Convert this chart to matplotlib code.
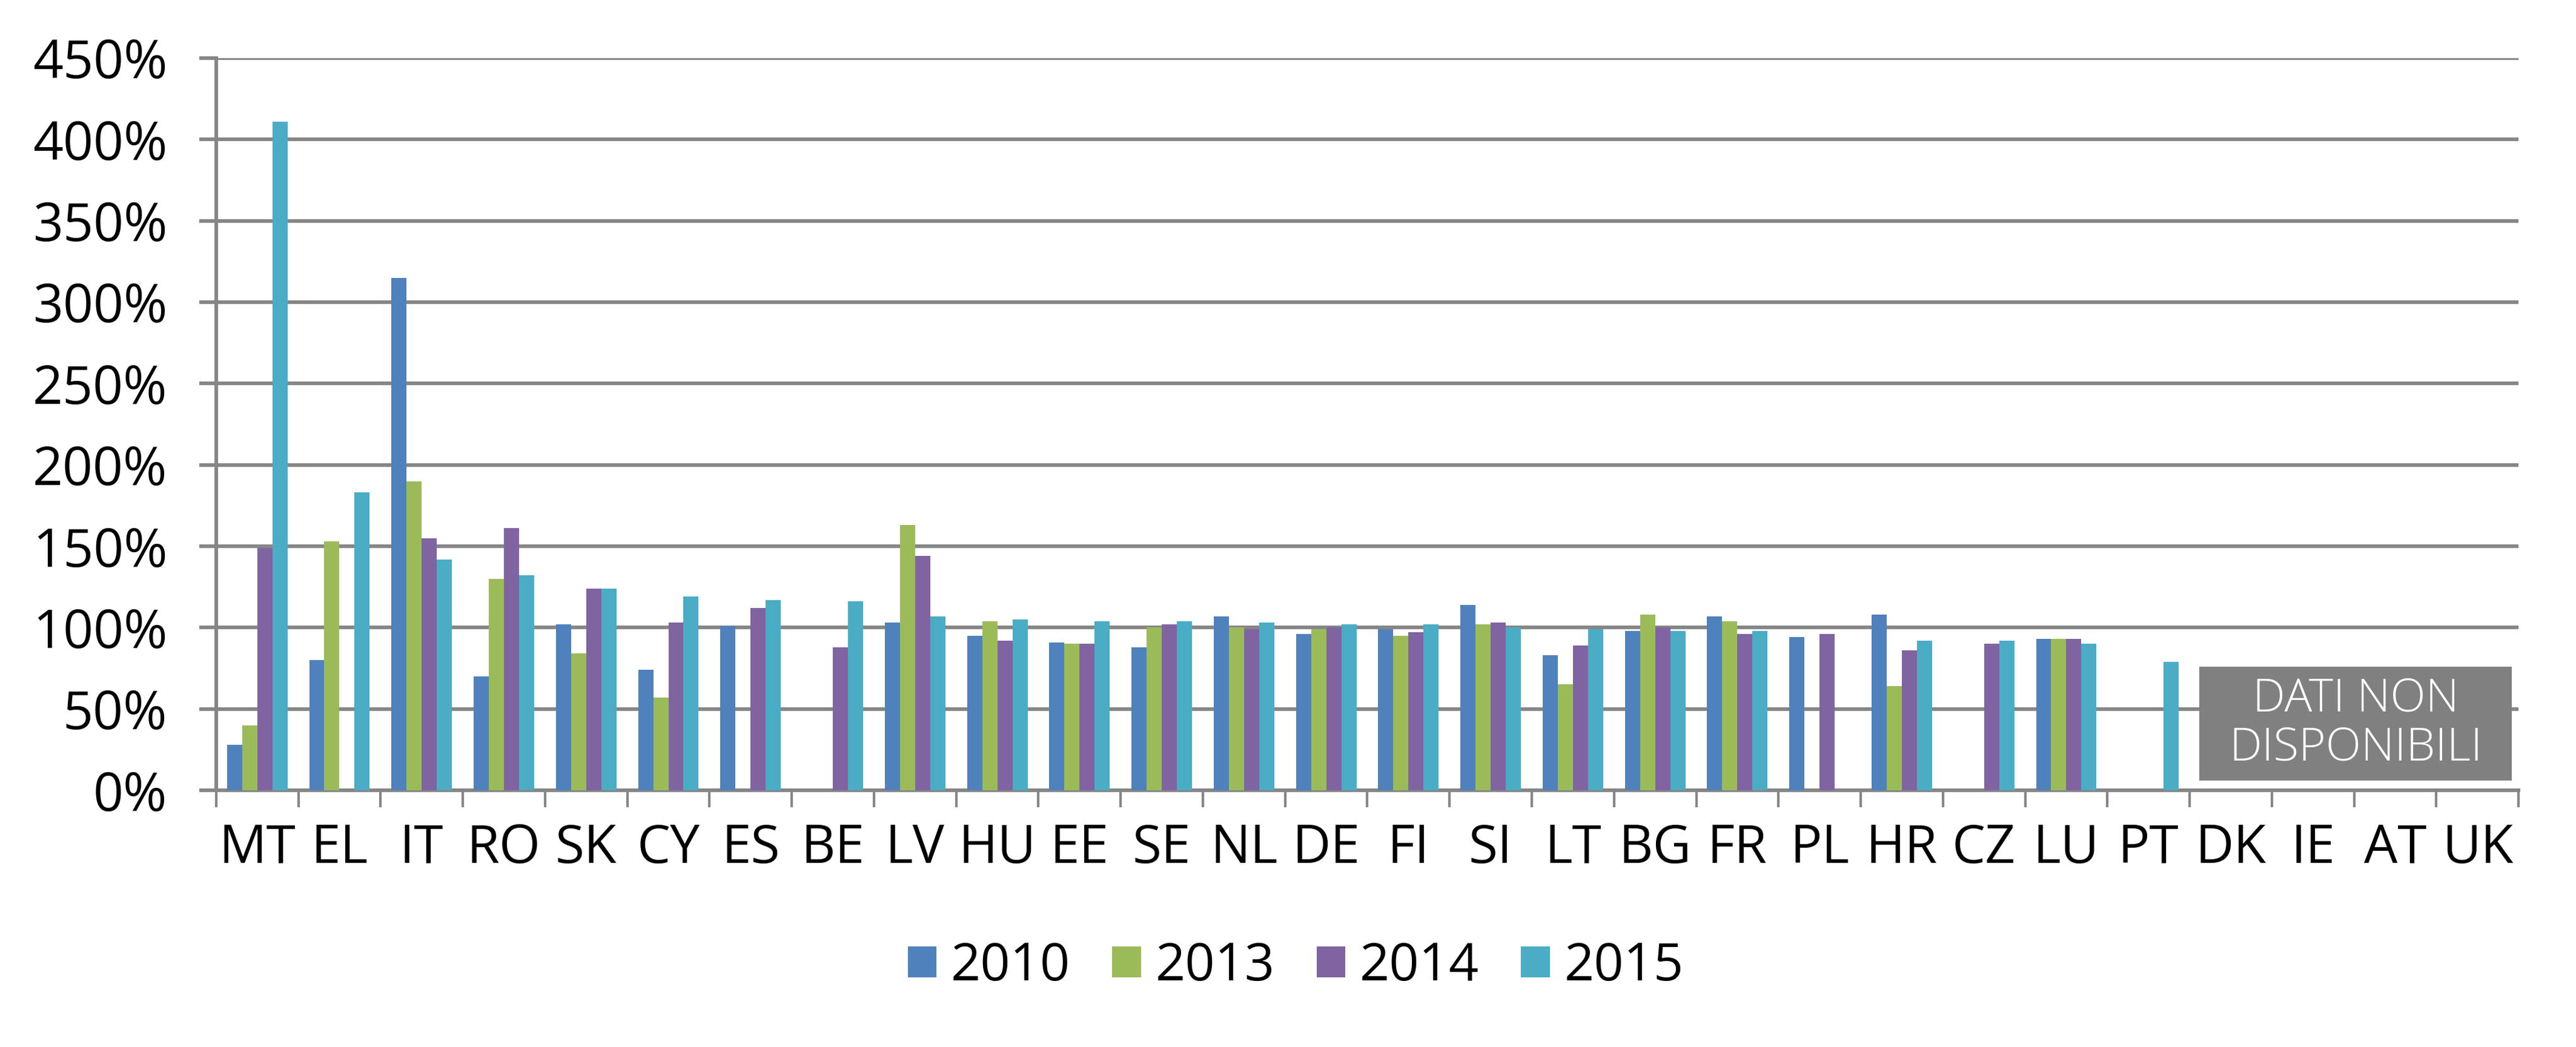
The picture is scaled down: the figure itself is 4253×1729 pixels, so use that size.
import numpy as np
import matplotlib
matplotlib.use("Agg")
import matplotlib.pyplot as plt
from matplotlib.ticker import FuncFormatter

plt.rcParams['font.family'] = ['Open Sans', 'DejaVu Sans']

countries = ['MT', 'EL', 'IT', 'RO', 'SK', 'CY', 'ES', 'BE', 'LV', 'HU', 'EE', 'SE', 'NL', 'DE',
             'FI', 'SI', 'LT', 'BG', 'FR', 'PL', 'HR', 'CZ', 'LU', 'PT', 'DK', 'IE', 'AT', 'UK']
nan = np.nan
# values in percent, nan = no data
v2010 = [28, 80, 315, 70, 102, 74, 101, nan, 103, 95, 91, 88, 107, 96,
         99, 114, 83, 98, 107, 94, 108, nan, 93, nan, nan, nan, nan, nan]
v2013 = [40, 153, 190, 130, 84, 57, nan, nan, 163, 104, 90, 100, 100, 99,
         95, 102, 65, 108, 104, nan, 64, nan, 93, nan, nan, nan, nan, nan]
v2014 = [149, nan, 155, 161, 124, 103, 112, 88, 144, 92, 90, 102, 99, 100,
         97, 103, 89, 100, 96, 96, 86, 90, 93, nan, nan, nan, nan, nan]
v2015 = [411, 183, 142, 132, 124, 119, 117, 116, 107, 105, 104, 104, 103, 102,
         102, 100, 99, 98, 98, nan, 92, 92, 90, 79, nan, nan, nan, nan]
years = ['2010', '2013', '2014', '2015']
series = [v2010, v2013, v2014, v2015]
colors = ['#4F81BD', '#9BBB59', '#8064A2', '#4BACC6']

grey = '#868686'

fig = plt.figure(figsize=(42.53, 17.29), dpi=100)
ax = fig.add_axes([0.0839, 0.2452, 0.9777 - 0.0839, 0.9445 - 0.2452])

x = np.arange(len(countries))
w = 0.184
for i, (vals, c, lab) in enumerate(zip(series, colors, years)):
    ax.bar(x + (i - 1.5) * w, np.array(vals, dtype=float), width=w, color=c,
           label=lab, zorder=3)

ax.set_xlim(-0.5, len(countries) - 0.5)
ax.set_ylim(0, 450)
ax.set_yticks(np.arange(0, 451, 50))
ax.yaxis.set_major_formatter(FuncFormatter(lambda v, p: f"{v:.0f}%"))
ax.grid(axis='y', color=grey, linewidth=4.3, zorder=0)
ax.set_axisbelow(True)

ax.set_xticks(x)
ax.set_xticklabels(countries)
ax.set_xticks(np.arange(-0.5, len(countries)), minor=True)
ax.tick_params(axis='x', which='major', length=0, labelsize=63, pad=38)
ax.tick_params(axis='x', which='minor', length=20, width=3, color=grey)
ax.tick_params(axis='y', length=20, width=4.3, color=grey, labelsize=63, pad=38)

for s in ['top', 'right']:
    ax.spines[s].set_visible(False)
for s in ['left', 'bottom']:
    ax.spines[s].set_color(grey)
    ax.spines[s].set_linewidth(4.3)

# "no data" box
ax.fill_between([23.62, 27.42], 6, 76, color='#808080', zorder=4, linewidth=0)
ax.text((23.62 + 27.42) / 2, 41, 'DATI NON\nDISPONIBILI', color='white', fontsize=55,
        fontweight='light', ha='center', va='center', linespacing=1.1, zorder=5)

fig.legend(loc='center', bbox_to_anchor=(0.503, 0.0763), ncol=4, frameon=False,
           fontsize=62, handlelength=0.55, handleheight=0.53, handletextpad=0.28,
           columnspacing=0.8)

fig.savefig('out.png', dpi=100)
